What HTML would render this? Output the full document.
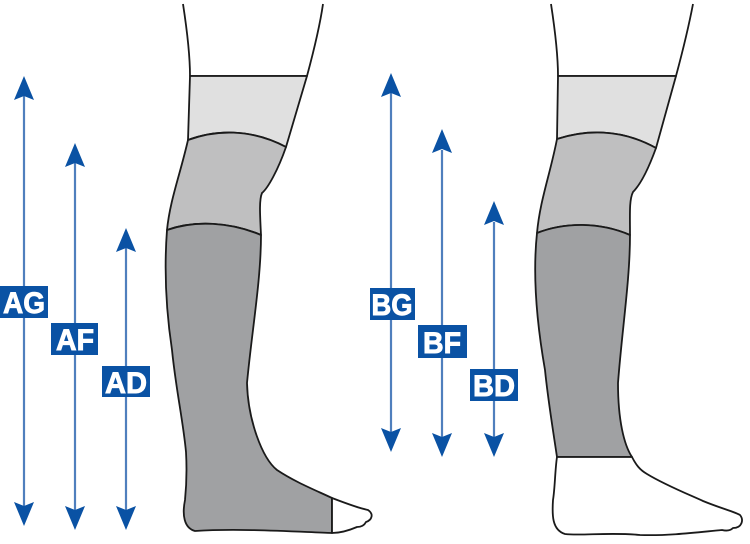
<!DOCTYPE html>
<html><head><meta charset="utf-8"><style>
html,body{margin:0;padding:0;background:#fff;}
svg{display:block;}
.lbl{font-family:"Liberation Sans",sans-serif;font-weight:bold;font-size:30px;fill:#fff;stroke:#fff;stroke-width:0.9;}
</style></head><body>
<svg width="750" height="544" viewBox="0 0 750 544" xmlns="http://www.w3.org/2000/svg">
<defs>
<g id="up"><path d="M0,0 L-10,24 L0,20 L10,24 Z" fill="#0a52a4"/></g>
<g id="dn"><path d="M0,0 L-10,-24 L0,-20 L10,-24 Z" fill="#0a52a4"/></g>
</defs>
<g stroke="#1a1a1a" stroke-width="1.8" stroke-linejoin="round">
<path d="M183,4 C187,30 190,55 190,76 L307,76 C314,50 320,25 323,4" fill="none"/>
<path d="M190,76 L307,76 L286,147 C250,128 215,130 188,140 Z" fill="#e0e0e0"/>
<path d="M188,140 C215,130 250,128 286,147 C278,170 268,188 262,193 C259,200 260,215 261,235 C230,222 195,220 167,230 C170,200 180,175 188,140 Z" fill="#bfbfc0"/>
<path d="M167,230 C195,220 230,222 261,235 C261,280 252,330 247,383 C248,420 262,458 277,470 C295,482 315,490 332,498 L332,533 C300,532 240,528 195,531 C184,528 182,515 185,500 C186,490 187,470 186,452 C183,420 176,390 172,350 C166,310 164,270 167,230 Z" fill="#a0a1a3"/>
<path d="M332,498 C345,503 358,508 368,510 C374,514 372,520 366,522 C364,526 360,527 357,527 C350,530 340,533 332,533 Z" fill="#fff"/>
<path d="M551,4 C555,30 558,55 558,76 L676,76 C683,50 689,25 693,4" fill="none"/>
<path d="M558,76 L676,76 L656,148 C620,128 585,130 557,139 Z" fill="#e0e0e0"/>
<path d="M557,139 C585,130 620,128 656,148 C648,170 640,185 633,192 C629,200 630,215 630,235 C600,222 565,222 537,233 C540,200 550,175 557,139 Z" fill="#bfbfc0"/>
<path d="M537,233 C565,222 600,222 630,235 C630,280 622,330 618,383 C618,420 624,445 632,457 L557,457 C553,430 548,400 545,370 C538,330 532,280 537,233 Z" fill="#a0a1a3"/>
<path d="M557,457 L632,457 C636,465 640,470 647,474 C665,485 690,495 703,501 C720,508 735,512 740,515 C744,520 742,528 733,528 C730,531 726,531 722,530 C700,532 670,536 640,535 C610,532 580,536 565,534 C552,530 552,515 553,500 C555,488 555,470 557,457 Z" fill="#fff"/>
</g>
<g stroke="#4f7fbd" stroke-width="2.2">
<line x1="24" y1="95" x2="24" y2="510"/>
<line x1="75" y1="162" x2="75" y2="512"/>
<line x1="126" y1="248" x2="126" y2="512"/>
<line x1="391" y1="93" x2="391" y2="435"/>
<line x1="442" y1="150" x2="442" y2="440"/>
<line x1="494" y1="222" x2="494" y2="440"/>
</g>
<use href="#up" x="24" y="76"/><use href="#dn" x="24" y="526"/>
<use href="#up" x="75" y="143"/><use href="#dn" x="75" y="530"/>
<use href="#up" x="126" y="228"/><use href="#dn" x="126" y="530"/>
<use href="#up" x="391" y="73"/><use href="#dn" x="391" y="452"/>
<use href="#up" x="442" y="129"/><use href="#dn" x="442" y="457"/>
<use href="#up" x="494" y="201"/><use href="#dn" x="494" y="457"/>
<g fill="#0a52a4">
<rect x="0" y="286" width="48" height="32"/>
<rect x="51" y="323" width="47" height="32"/>
<rect x="102" y="366" width="48" height="31"/>
<rect x="370" y="288" width="45" height="32"/>
<rect x="418" y="325" width="49" height="33"/>
<rect x="470" y="369" width="48" height="32"/>
</g>
<g class="lbl" text-anchor="middle">
<text x="24" y="313" textLength="42" lengthAdjust="spacingAndGlyphs">AG</text>
<text x="75" y="350" textLength="38" lengthAdjust="spacingAndGlyphs">AF</text>
<text x="126" y="393" textLength="42" lengthAdjust="spacingAndGlyphs">AD</text>
<text x="392" y="315" textLength="41" lengthAdjust="spacingAndGlyphs">BG</text>
<text x="442" y="353" textLength="38" lengthAdjust="spacingAndGlyphs">BF</text>
<text x="494" y="396" textLength="42" lengthAdjust="spacingAndGlyphs">BD</text>
</g>
</svg>
</body></html>
